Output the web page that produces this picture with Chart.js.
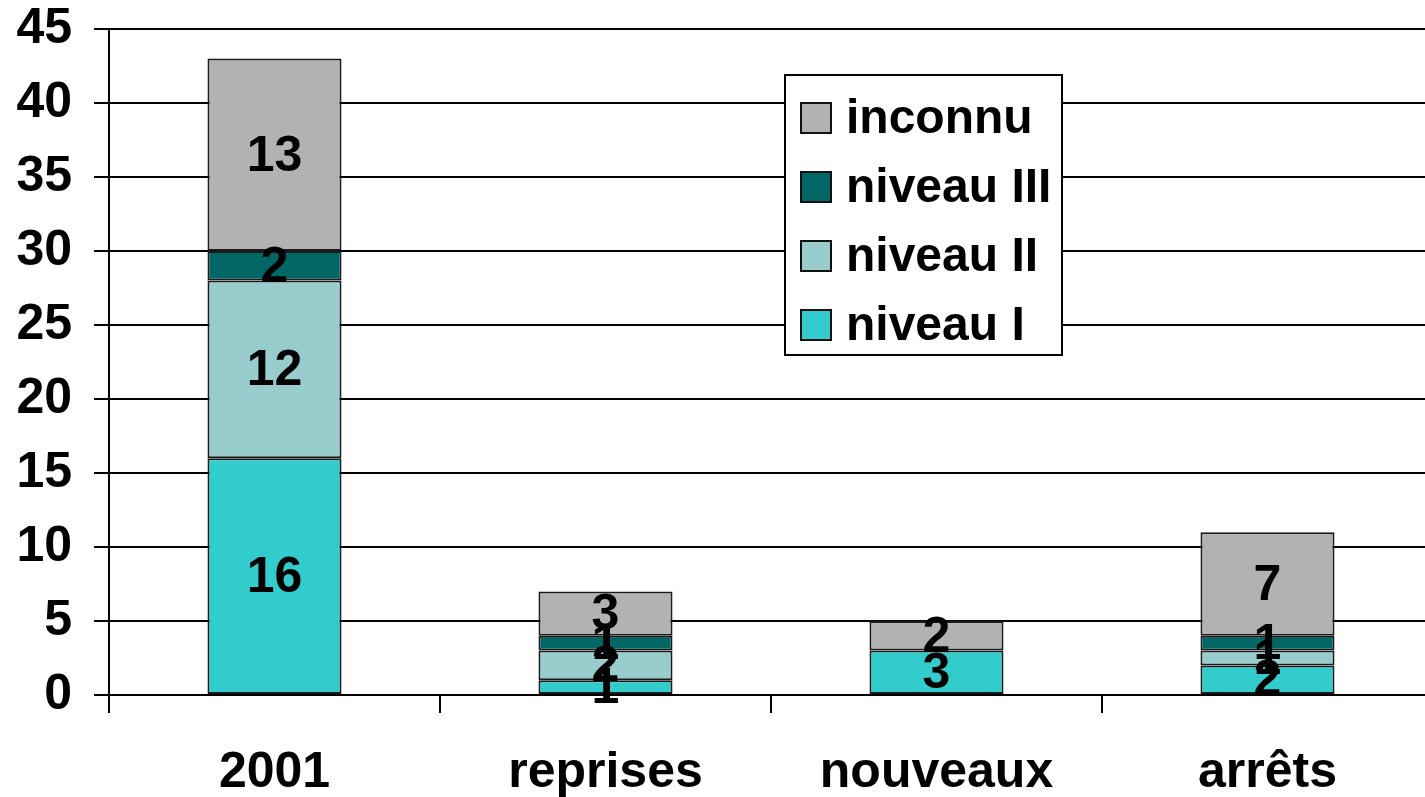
<!DOCTYPE html>
<html><head><meta charset="utf-8">
<script src="https://cdn.jsdelivr.net/npm/chart.js@4"></script>
<style>html,body{margin:0;padding:0;overflow:hidden;background:#fff}canvas{display:block}</style>
</head><body>
<canvas id="c" width="1433" height="797" style="width:1433px;height:797px"></canvas>
<script>
const categories = ['2001', 'reprises', 'nouveaux', 'arrêts'];
const niveauI = [16, 1, 3, 2];
const niveauII = [12, 2, 0, 1];
const niveauIII = [2, 1, 0, 1];
const inconnu = [13, 3, 2, 7];
const seriesLabels = ['niveau I', 'niveau II', 'niveau III', 'inconnu'];
const seriesColors = ['#33cccc', '#99cccc', '#006666', '#b2b2b2'];
const yMin = 0, yMax = 45, yStep = 5;

const FONT = 'Arial, "Liberation Sans", sans-serif';

const valueLabels = {
  id: 'valueLabels',
  afterDatasetsDraw(chart) {
    const ctx = chart.ctx;
    ctx.save();
    ctx.font = 'bold 50px ' + FONT;
    ctx.fillStyle = '#000';
    ctx.textAlign = 'center';
    ctx.textBaseline = 'middle';
    chart.data.datasets.forEach((ds, i) => {
      const meta = chart.getDatasetMeta(i);
      meta.data.forEach((el, j) => {
        const v = ds.data[j];
        if (!v) return;
        ctx.fillText(String(v), el.x, (el.y + el.base) / 2 + 2);
      });
    });
    ctx.restore();
  }
};

const boxLegend = {
  id: 'boxLegend',
  afterDraw(chart) {
    const ctx = chart.ctx;
    const x0 = 785, y0 = 75, w = 277, h = 280;
    ctx.save();
    ctx.fillStyle = '#fff';
    ctx.fillRect(x0, y0, w, h);
    ctx.strokeStyle = '#000';
    ctx.lineWidth = 2;
    ctx.strokeRect(x0, y0, w, h);
    ctx.font = 'bold 48px ' + FONT;
    ctx.textBaseline = 'middle';
    ctx.textAlign = 'left';
    const n = chart.data.datasets.length;
    for (let k = 0; k < n; k++) {
      const ds = chart.data.datasets[n - 1 - k];
      const cy = 118 + k * 69;
      ctx.fillStyle = ds.backgroundColor;
      ctx.fillRect(801, cy - 15, 30, 30);
      ctx.strokeStyle = '#111';
      ctx.lineWidth = 2;
      ctx.strokeRect(801, cy - 15, 30, 30);
      ctx.fillStyle = '#000';
      ctx.fillText(ds.label, 846, cy + 2);
    }
    ctx.restore();
  }
};

const datasets = [niveauI, niveauII, niveauIII, inconnu].map((d, i) => ({
  label: seriesLabels[i],
  data: d,
  backgroundColor: seriesColors[i],
  borderColor: '#1a1a1a',
  borderWidth: 2,
  borderSkipped: false,
  categoryPercentage: 1,
  barPercentage: 0.405
}));

new Chart(document.getElementById('c'), {
  type: 'bar',
  data: { labels: categories, datasets },
  options: {
    responsive: false,
    animation: false,
    layout: { padding: { top: 29, left: 0, right: 0, bottom: 0 } },
    plugins: { legend: { display: false }, tooltip: { enabled: false } },
    scales: {
      x: {
        stacked: true,
        afterFit(s) { s.height = 102; s.paddingLeft = 0; s.paddingRight = 0; },
        grid: { display: true, drawOnChartArea: false, offset: true, color: '#000', lineWidth: 2, tickLength: 18 },
        border: { display: true, color: '#000', width: 2 },
        ticks: { color: '#000', font: { family: FONT, size: 50, weight: 'bold' }, padding: 30, maxRotation: 0 }
      },
      y: {
        stacked: true,
        min: yMin, max: yMax,
        afterFit(s) { s.width = 109; s.paddingTop = 0; s.paddingBottom = 0; },
        grid: { color: '#000', lineWidth: 2, tickLength: 15 },
        border: { display: true, color: '#000', width: 2 },
        ticks: { stepSize: yStep, color: '#000', font: { family: FONT, size: 50, weight: 'bold' }, padding: 22 }
      }
    }
  },
  plugins: [valueLabels, boxLegend]
});
</script>
</body></html>
